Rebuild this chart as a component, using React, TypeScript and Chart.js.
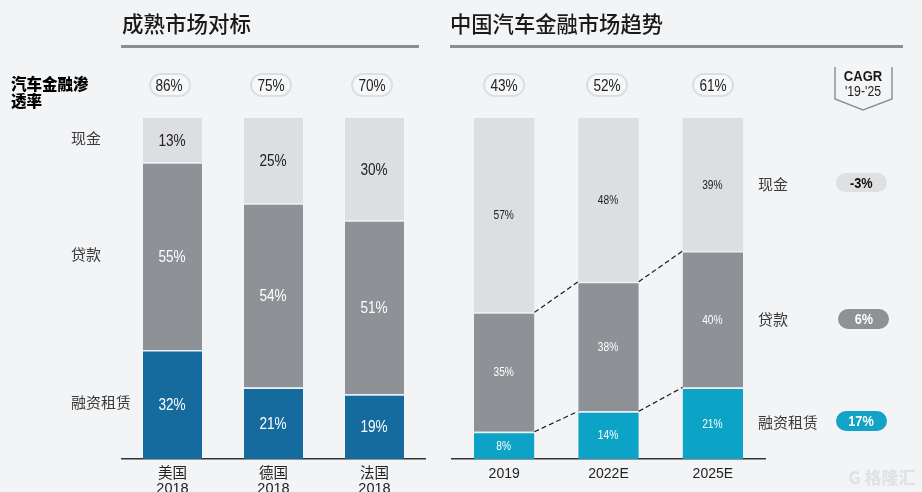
import React, { useEffect, useRef } from "react";
import { Chart, registerables } from "chart.js";

Chart.register(...registerables);

const NARROW = '"Liberation Sans", Arial, sans-serif';
const CJK = '"Liberation Sans", "Noto Sans CJK SC", sans-serif';
const BG = "#f3f4f6";
const SQUEEZE = 0.85;

const matureCategories = [["美国", "2018"], ["德国", "2018"], ["法国", "2018"]];
const matureCash = [13, 25, 30];
const matureLoan = [55, 54, 51];
const matureLease = [32, 21, 19];
const maturePenetration = ["86%", "75%", "70%"];

const chinaCategories = ["2019", "2022E", "2025E"];
const chinaCash = [57, 48, 39];
const chinaLoan = [35, 38, 40];
const chinaLease = [8, 14, 21];
const chinaPenetration = ["43%", "52%", "61%"];

const LIGHT = "#dcdee1";
const GREY = "#8e9196";
const DARK_BLUE = "#156a9e";
const CYAN = "#0ca3c7";

function stackedConfig(opts: {
  labels: any[];
  cash: number[];
  loan: number[];
  lease: number[];
  leaseColor: string;
  barPct: number;
  padL: number;
  padR: number;
  labelFont: string;
  tickFont: any;
  tickPad: number;
  connectors: boolean;
}) {
  const border = { top: 1.5, bottom: 0, left: 0, right: 0 };
  const labelsPlugin = {
    id: "segmentLabels",
    afterDatasetsDraw(chart: any) {
      const ctx = chart.ctx;
      ctx.save();
      const colors = ["#ffffff", "#ffffff", "#222222"];
      ctx.textAlign = "center";
      ctx.textBaseline = "middle";
      ctx.font = opts.labelFont;
      chart.data.datasets.forEach((ds: any, di: number) => {
        chart.getDatasetMeta(di).data.forEach((el: any, i: number) => {
          ctx.save();
          ctx.translate(el.x - 0.5, (el.y + el.base) / 2 + 1);
          ctx.scale(SQUEEZE, 1);
          ctx.fillStyle = colors[di];
          ctx.fillText(ds.data[i] + "%", 0, 0);
          ctx.restore();
        });
      });
      if (opts.connectors) {
        ctx.strokeStyle = "#1a1a1a";
        ctx.lineWidth = 1.2;
        ctx.setLineDash([5, 3]);
        [0, 1].forEach((di) => {
          const bars = chart.getDatasetMeta(di).data;
          for (let i = 0; i < bars.length - 1; i++) {
            ctx.beginPath();
            ctx.moveTo(bars[i].x + bars[i].width / 2, bars[i].y);
            ctx.lineTo(bars[i + 1].x - bars[i + 1].width / 2, bars[i + 1].y);
            ctx.stroke();
          }
        });
      }
      ctx.restore();
    },
  };
  return {
    type: "bar" as const,
    data: {
      labels: opts.labels,
      datasets: [
        { label: "融资租赁", data: opts.lease, backgroundColor: opts.leaseColor, borderColor: "#e8f1f6", borderWidth: border, borderSkipped: false },
        { label: "贷款", data: opts.loan, backgroundColor: GREY, borderColor: "#e8f1f6", borderWidth: border, borderSkipped: false },
        { label: "现金", data: opts.cash, backgroundColor: LIGHT, borderWidth: 0 },
      ],
    },
    options: {
      responsive: false,
      animation: false as const,
      layout: { padding: { left: opts.padL, right: opts.padR, top: 118, bottom: 0 } },
      plugins: { legend: { display: false }, tooltip: { enabled: false } },
      scales: {
        x: {
          stacked: true,
          afterFit: (s: any) => { s.height = 33; },
          grid: { display: false, drawTicks: false },
          border: { color: "#333333", width: 1.5 },
          ticks: { color: "#222222", font: opts.tickFont, padding: opts.tickPad, autoSkip: false, maxRotation: 0 },
        },
        y: { stacked: true, display: false, min: 0, max: 100 },
      },
      datasets: { bar: { barPercentage: opts.barPct, categoryPercentage: 1 } },
    },
    plugins: [labelsPlugin],
  };
}

function T(p: { x: number; y: number; size?: number; color?: string; weight?: any; font?: string; children: any; center?: boolean; lh?: number; sx?: number }) {
  const sx = p.sx ?? 1;
  return (
    <div
      style={{
        position: "absolute",
        left: p.x,
        top: p.y,
        fontSize: p.size ?? 15,
        color: p.color ?? "#3a3a3a",
        fontWeight: p.weight ?? 400,
        fontFamily: p.font ?? CJK,
        lineHeight: `${p.lh ?? 20}px`,
        height: p.lh ?? 20,
        whiteSpace: "nowrap",
        transform: (p.center ? "translate(-50%,-50%)" : "translateY(-50%)") + ` scaleX(${sx})`,
      }}
    >
      {p.children}
    </div>
  );
}

function Pill({ cx, text }: { cx: number; text: string }) {
  return (
    <div
      style={{
        position: "absolute", left: cx - 21, top: 73, width: 42, height: 24, boxSizing: "border-box",
        border: "2px solid #dcdee0", borderRadius: 12, background: "#f6f7f8",
        textAlign: "center", lineHeight: "21px", fontSize: 16, color: "#222", fontFamily: NARROW,
      }}
    >
      <span style={{ display: "inline-block", transform: `scaleX(${SQUEEZE})` }}>{text}</span>
    </div>
  );
}

function Cagr({ x, cy, w, h, bg, color, text }: { x: number; cy: number; w: number; h: number; bg: string; color: string; text: string }) {
  return (
    <div
      style={{
        position: "absolute", left: x, top: cy - h / 2, width: w, height: h, borderRadius: h / 2, background: bg,
        color, textAlign: "center", lineHeight: `${h}px`, fontSize: 15, fontWeight: 700, fontFamily: NARROW,
      }}
    >
      <span style={{ display: "inline-block", transform: `scaleX(${SQUEEZE})` }}>{text}</span>
    </div>
  );
}

export default function App() {
  const leftRef = useRef<HTMLCanvasElement>(null);
  const rightRef = useRef<HTMLCanvasElement>(null);

  useEffect(() => {
    const a = new Chart(leftRef.current!, stackedConfig({
      labels: matureCategories, cash: matureCash, loan: matureLoan, lease: matureLease,
      leaseColor: DARK_BLUE, barPct: 59 / 101, padL: 122, padR: 15,
      labelFont: `16px ${NARROW}`, tickFont: { size: 14.5, family: CJK, lineHeight: 1.05 }, tickPad: 7, connectors: false,
    }) as any);
    const b = new Chart(rightRef.current!, stackedConfig({
      labels: chinaCategories, cash: chinaCash, loan: chinaLoan, lease: chinaLease,
      leaseColor: CYAN, barPct: 60.5 / 104.3, padL: 12, padR: 157,
      labelFont: `12px ${NARROW}`, tickFont: { size: 14, family: NARROW, lineHeight: 1 }, tickPad: 8, connectors: true,
    }) as any);
    return () => { a.destroy(); b.destroy(); };
  }, []);

  const titleFont = '"Noto Sans CJK SC", sans-serif';
  return (
    <div style={{ position: "absolute", left: 0, top: 0, width: 922, height: 492, background: BG, overflow: "hidden" }}>
      <canvas ref={leftRef} width={440} height={492} style={{ position: "absolute", left: 0, top: 0 }} />
      <canvas ref={rightRef} width={482} height={492} style={{ position: "absolute", left: 440, top: 0 }} />

      <T x={122} y={23} size={21.5} weight={500} color="#1a1a1a" lh={28} font={titleFont}>成熟市场对标</T>
      <T x={450} y={23} size={21.3} weight={500} color="#1a1a1a" lh={28} font={titleFont}>中国汽车金融市场趋势</T>
      <div style={{ position: "absolute", left: 121, top: 45, width: 298, height: 3, background: "#8b8d90" }} />
      <div style={{ position: "absolute", left: 450, top: 45, width: 453, height: 3, background: "#8b8d90" }} />

      <T x={11} y={83} size={15.5} weight={900} color="#000" lh={16} font={titleFont}>汽车金融渗</T>
      <T x={11} y={100} size={15.5} weight={900} color="#000" lh={16} font={titleFont}>透率</T>

      {maturePenetration.map((t, i) => <Pill key={t} cx={[169.5, 271, 372][i]} text={t} />)}
      {chinaPenetration.map((t, i) => <Pill key={t} cx={[504, 607, 713][i]} text={t} />)}

      <T x={71} y={139}>现金</T>
      <T x={71} y={255}>贷款</T>
      <T x={71} y={403}>融资租赁</T>
      <T x={758} y={185}>现金</T>
      <T x={758} y={320}>贷款</T>
      <T x={758} y={423}>融资租赁</T>

      <Cagr x={836} cy={182} w={51} h={19} bg="#dfe0e2" color="#111" text="-3%" />
      <Cagr x={838} cy={319} w={51} h={20} bg="#8e9196" color="#fff" text="6%" />
      <Cagr x={836} cy={421} w={51} h={20} bg="#12a3c6" color="#fff" text="17%" />

      <svg width={62} height={48} style={{ position: "absolute", left: 833, top: 65 }}>
        <polyline points="2,2 2,34 30,45 59,34 59,2" fill="none" stroke="#8e9196" strokeWidth={1.5} />
      </svg>
      <T x={863} y={76} size={15} weight={700} color="#1a1a1a" center lh={16} font={NARROW} sx={0.87}>CAGR</T>
      <T x={863} y={91} size={15} color="#222" center lh={16} font={NARROW} sx={0.82}>'19-'25</T>

      <T x={882} y={477} size={17} weight={700} color="#dfe1e4" center lh={22} font={titleFont}>G 格隆汇</T>
    </div>
  );
}
